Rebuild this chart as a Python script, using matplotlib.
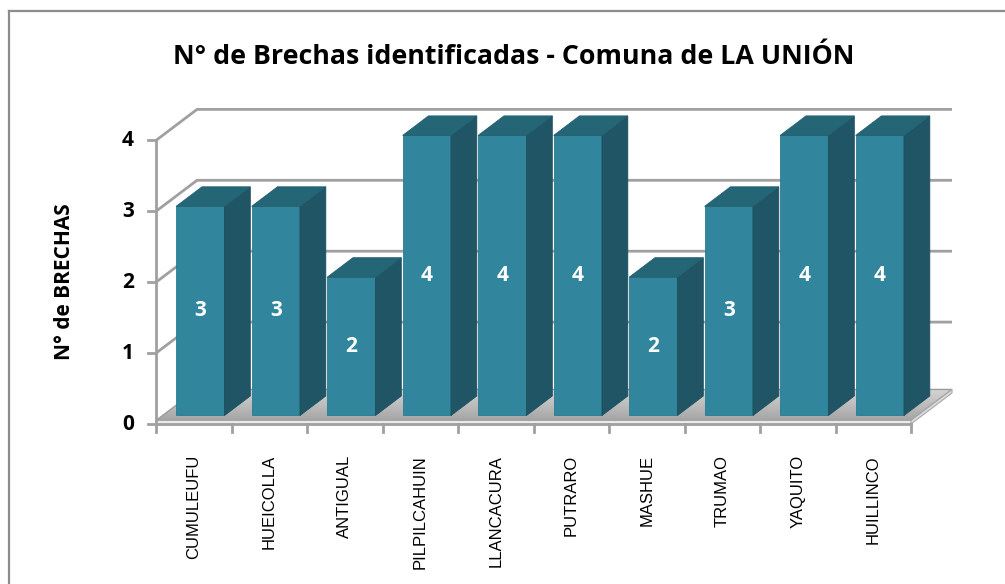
import numpy as np
import matplotlib.pyplot as plt
from matplotlib.patches import Polygon

# Datos
localidades = ['CUMULEUFU', 'HUEICOLLA', 'ANTIGUAL', 'PILPILCAHUIN', 'LLANCACURA',
               'PUTRARO', 'MASHUE', 'TRUMAO', 'YAQUITO', 'HUILLINCO']
brechas = [3, 3, 2, 4, 4, 4, 2, 3, 4, 4]
y_ticks = [0, 1, 2, 3, 4]
titulo = 'N° de Brechas identificadas - Comuna de LA UNIÓN'
ylabel = 'N° de BRECHAS'

# escala: pixeles por categoria / por unidad
PX_X = 75.5
PX_Y = 70.9
X0, Y0 = 156, 424          # origen (0, 0) en pixeles
W, H = 1005, 584

# profundidad de la pared (pseudo 3D)
DX = 41 / PX_X
DY = 31 / PX_Y
n = len(localidades)

col_front = '#31859c'
col_side = '#205566'
col_top = '#256676'
col_grid = '#a0a0a0'
fuente = 'Open Sans'

fig = plt.figure(figsize=(W / 100, H / 100), dpi=100)
ax = fig.add_axes([0, 0, 1, 1])

# borde del grafico (solo arriba e izquierda visibles)
fig.add_artist(plt.Line2D([8.5 / W, 1], [1 - 10.5 / H, 1 - 10.5 / H],
                          transform=fig.transFigure, color='#8c8c8c', lw=1.6))
fig.add_artist(plt.Line2D([8.5 / W, 8.5 / W], [0, 1 - 10.5 / H],
                          transform=fig.transFigure, color='#8c8c8c', lw=1.6))

# piso con degradado (oscuro al frente, claro al fondo)
slab = 0.05
piso = Polygon([(0, slab), (n, slab), (n + DX, slab + DY), (DX, slab + DY)],
               closed=True, facecolor='none', edgecolor='#9a9a9a', lw=1, zorder=1.1)
ax.add_patch(piso)
grad = np.linspace(0, 1, 50).reshape(-1, 1)
img = ax.imshow(grad, cmap=plt.matplotlib.colors.LinearSegmentedColormap.from_list(
    'piso', ['#a6a6a6', '#d6d6d6']), extent=(0, n + DX, slab, slab + DY),
    origin='lower', aspect='auto', zorder=1, interpolation='bilinear')
img.set_clip_path(piso)
ax.add_patch(Polygon([(0, 0), (n, 0), (n, slab), (0, slab)], closed=True,
                     facecolor='#ececec', edgecolor='#a8a8a8', lw=0.8, zorder=1.2))
ax.add_patch(Polygon([(n, 0), (n + DX, DY), (n + DX, DY + slab), (n, slab)], closed=True,
                     facecolor='#dcdcdc', edgecolor='#a8a8a8', lw=0.8, zorder=1.2))

# lineas de division: pared lateral y pared de fondo
for v in y_ticks[1:]:
    ax.plot([0, DX, n + DX], [v, v + DY, v + DY], color=col_grid, lw=2, zorder=0.5,
            solid_capstyle='butt')

# eje y frontal
ax.plot([0, 0], [0, max(y_ticks)], color=col_grid, lw=2, zorder=5)
for v in y_ticks:
    ax.plot([-8 / PX_X, 0], [v, v], color=col_grid, lw=2, zorder=5)
    ax.text(-22 / PX_X, v, str(v), ha='right', va='center', fontsize=15,
            fontweight='bold', family=fuente)

# eje x
ax.plot([0, n], [0, 0], color=col_grid, lw=2, zorder=5)
for i in range(n + 1):
    ax.plot([i, i], [0, -8 / PX_Y], color=col_grid, lw=2, zorder=5)

# barras
ancho = 0.64
d0, d1 = 0.16, 0.79
for i, (nom, val) in enumerate(zip(localidades, brechas)):
    xl = i + 0.5 - ancho / 2 + d0 * DX
    xr = xl + ancho
    yb = slab + d0 * DY
    yt = val + d0 * DY
    ddx = (d1 - d0) * DX
    ddy = (d1 - d0) * DY
    z = 10 + i
    ax.add_patch(Polygon([(xl, yb), (xr, yb), (xr, yt), (xl, yt)],
                         facecolor=col_front, edgecolor='#2c7a8f', lw=0.6, zorder=z))
    ax.add_patch(Polygon([(xr, yb), (xr + ddx, yb + ddy), (xr + ddx, yt + ddy), (xr, yt)],
                         facecolor=col_side, edgecolor='#1d4f5e', lw=0.6, zorder=z))
    ax.add_patch(Polygon([(xl, yt), (xr, yt), (xr + ddx, yt + ddy), (xl + ddx, yt + ddy)],
                         facecolor=col_top, edgecolor='#22606f', lw=0.6, zorder=z))
    ax.text((xl + xr) / 2, (yb + yt) / 2, str(val), ha='center', va='center',
            color='white', fontsize=15, fontweight='bold', family=fuente, zorder=30)
    ax.text(i + 0.5, -31 / PX_Y, nom, rotation=90, ha='center', va='top',
            fontsize=12, family='Liberation Sans', zorder=30)

fig.text(514 / W, 1 - 57 / H, titulo, ha='center', va='center', fontsize=19.3,
         fontweight='bold', family=fuente)
fig.text(65 / W, 1 - 282 / H, ylabel, ha='center', va='center', rotation=90,
         fontsize=15, fontweight='bold', family=fuente)

ax.set_xlim(-X0 / PX_X, (W - X0) / PX_X)
ax.set_ylim(-(H - Y0) / PX_Y, Y0 / PX_Y)
ax.axis('off')

fig.savefig('out.png', dpi=100)
